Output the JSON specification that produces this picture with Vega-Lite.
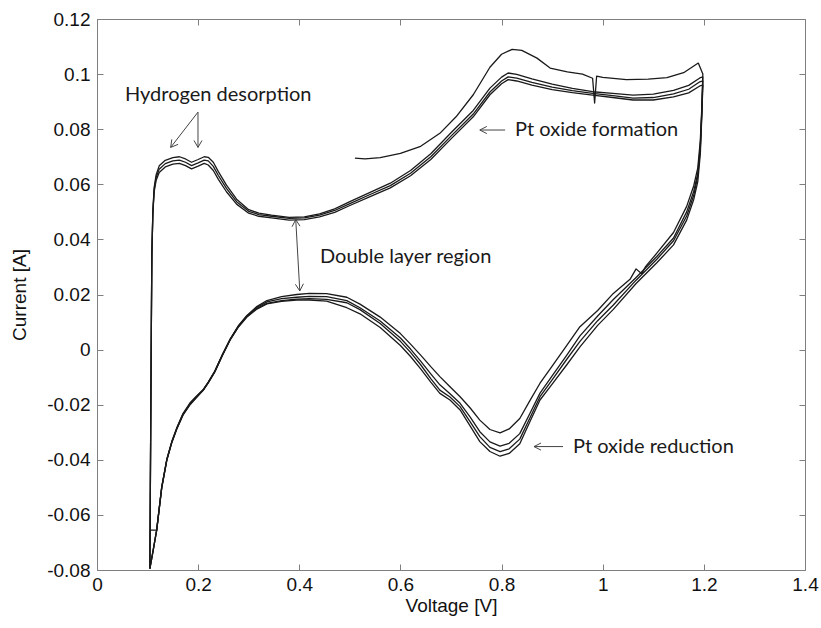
{
"$schema": "https://vega.github.io/schema/vega-lite/v6.json",
"width": 708, "height": 551,
"autosize": {"type": "none"},
"padding": {"left": 97, "top": 19, "right": 16, "bottom": 58},
"background": "white",
"config": {
  "view": {"stroke": "#7f7f7f", "strokeWidth": 1},
  "axis": {"domain": false, "grid": false, "tickColor": "#7f7f7f", "tickSize": -6, "tickWidth": 1,
    "labelFont": "Liberation Sans", "labelFontSize": 19, "labelColor": "#111",
    "titleFont": "Liberation Sans", "titleFontSize": 19, "titleFontWeight": "normal", "titleColor": "#111"}
},
"datasets": {
  "cv": [
{"s":"c1","v":0.510,"a":0.0695},{"s":"c1","v":0.530,"a":0.0692},{"s":"c1","v":0.560,"a":0.0697},{"s":"c1","v":0.600,"a":0.0712},{"s":"c1","v":0.640,"a":0.0738},{"s":"c1","v":0.678,"a":0.0785},{"s":"c1","v":0.710,"a":0.0845},{"s":"c1","v":0.744,"a":0.0925},{"s":"c1","v":0.777,"a":0.1025},{"s":"c1","v":0.800,"a":0.1072},{"s":"c1","v":0.821,"a":0.1090},{"s":"c1","v":0.840,"a":0.1086},{"s":"c1","v":0.870,"a":0.1058},{"s":"c1","v":0.896,"a":0.1022},{"s":"c1","v":0.930,"a":0.1008},{"s":"c1","v":0.960,"a":0.1000},{"s":"c1","v":0.980,"a":0.0985},{"s":"c1","v":0.984,"a":0.0895},{"s":"c1","v":0.988,"a":0.0993},{"s":"c1","v":1.000,"a":0.0988},{"s":"c1","v":1.047,"a":0.0980},{"s":"c1","v":1.090,"a":0.0982},{"s":"c1","v":1.127,"a":0.0987},{"s":"c1","v":1.160,"a":0.1005},{"s":"c1","v":1.189,"a":0.1040},{"s":"c1","v":1.198,"a":0.1000},
{"s":"c1","v":1.196,"a":0.088},{"s":"c1","v":1.193,"a":0.076},{"s":"c1","v":1.188,"a":0.066},{"s":"c1","v":1.180,"a":0.0595},{"s":"c1","v":1.166,"a":0.0520},{"s":"c1","v":1.140,"a":0.0425},{"s":"c1","v":1.107,"a":0.0350},{"s":"c1","v":1.085,"a":0.0302},{"s":"c1","v":1.077,"a":0.0275},{"s":"c1","v":1.066,"a":0.0293},{"s":"c1","v":1.054,"a":0.0255},{"s":"c1","v":1.021,"a":0.0204},{"s":"c1","v":0.990,"a":0.0142},{"s":"c1","v":0.955,"a":0.0083},{"s":"c1","v":0.929,"a":0.0015},{"s":"c1","v":0.900,"a":-0.0060},{"s":"c1","v":0.876,"a":-0.0122},{"s":"c1","v":0.856,"a":-0.0185},{"s":"c1","v":0.836,"a":-0.0250},{"s":"c1","v":0.815,"a":-0.0288},{"s":"c1","v":0.797,"a":-0.0302},{"s":"c1","v":0.777,"a":-0.0290},{"s":"c1","v":0.757,"a":-0.0256},{"s":"c1","v":0.738,"a":-0.0212},{"s":"c1","v":0.718,"a":-0.0171},{"s":"c1","v":0.698,"a":-0.0135},{"s":"c1","v":0.678,"a":-0.0098},{"s":"c1","v":0.660,"a":-0.0062},{"s":"c1","v":0.640,"a":-0.0020},{"s":"c1","v":0.620,"a":0.0020},{"s":"c1","v":0.600,"a":0.0058},{"s":"c1","v":0.560,"a":0.0118},{"s":"c1","v":0.520,"a":0.0165},{"s":"c1","v":0.494,"a":0.0190},{"s":"c1","v":0.454,"a":0.0203},{"s":"c1","v":0.420,"a":0.0204},{"s":"c1","v":0.395,"a":0.0200},{"s":"c1","v":0.365,"a":0.0192},{"s":"c1","v":0.336,"a":0.0178},{"s":"c1","v":0.315,"a":0.0155},{"s":"c1","v":0.296,"a":0.0123},{"s":"c1","v":0.280,"a":0.0088},{"s":"c1","v":0.263,"a":0.0037},{"s":"c1","v":0.248,"a":-0.0018},{"s":"c1","v":0.233,"a":-0.0078},{"s":"c1","v":0.220,"a":-0.0118},{"s":"c1","v":0.210,"a":-0.0145},{"s":"c1","v":0.195,"a":-0.0172},{"s":"c1","v":0.184,"a":-0.0193},{"s":"c1","v":0.170,"a":-0.0232},{"s":"c1","v":0.158,"a":-0.0283},{"s":"c1","v":0.148,"a":-0.0333},{"s":"c1","v":0.138,"a":-0.0398},{"s":"c1","v":0.128,"a":-0.0498},{"s":"c1","v":0.118,"a":-0.0655},{"s":"c1","v":0.110,"a":-0.0740},{"s":"c1","v":0.1045,"a":-0.0795},

{"s":"c2","v":0.1045,"a":-0.0795},{"s":"c2","v":0.1055,"a":-0.050},{"s":"c2","v":0.1065,"a":-0.020},{"s":"c2","v":0.1075,"a":0.010},{"s":"c2","v":0.1085,"a":0.035},{"s":"c2","v":0.1105,"a":0.0505},{"s":"c2","v":0.113,"a":0.0588},{"s":"c2","v":0.117,"a":0.0635},{"s":"c2","v":0.123,"a":0.0667},{"s":"c2","v":0.135,"a":0.0687},{"s":"c2","v":0.150,"a":0.0697},{"s":"c2","v":0.163,"a":0.0700},{"s":"c2","v":0.175,"a":0.0692},{"s":"c2","v":0.187,"a":0.0680},{"s":"c2","v":0.200,"a":0.0690},{"s":"c2","v":0.212,"a":0.0700},{"s":"c2","v":0.220,"a":0.0698},{"s":"c2","v":0.230,"a":0.0680},{"s":"c2","v":0.240,"a":0.0646},{"s":"c2","v":0.256,"a":0.0597},{"s":"c2","v":0.276,"a":0.0546},{"s":"c2","v":0.300,"a":0.0508},{"s":"c2","v":0.320,"a":0.0495},{"s":"c2","v":0.345,"a":0.0488},{"s":"c2","v":0.380,"a":0.0480},{"s":"c2","v":0.410,"a":0.0482},{"s":"c2","v":0.440,"a":0.0493},{"s":"c2","v":0.470,"a":0.0511},{"s":"c2","v":0.500,"a":0.0537},{"s":"c2","v":0.540,"a":0.0571},{"s":"c2","v":0.580,"a":0.0604},{"s":"c2","v":0.620,"a":0.0650},{"s":"c2","v":0.660,"a":0.0711},{"s":"c2","v":0.700,"a":0.0787},{"s":"c2","v":0.744,"a":0.0868},{"s":"c2","v":0.777,"a":0.0949},{"s":"c2","v":0.800,"a":0.0989},{"s":"c2","v":0.813,"a":0.1004},{"s":"c2","v":0.830,"a":0.0999},{"s":"c2","v":0.860,"a":0.0983},{"s":"c2","v":0.900,"a":0.0964},{"s":"c2","v":0.940,"a":0.0948},{"s":"c2","v":0.980,"a":0.0936},{"s":"c2","v":1.020,"a":0.0930},{"s":"c2","v":1.060,"a":0.0924},{"s":"c2","v":1.100,"a":0.0927},{"s":"c2","v":1.140,"a":0.0941},{"s":"c2","v":1.170,"a":0.0959},{"s":"c2","v":1.192,"a":0.0986},{"s":"c2","v":1.198,"a":0.0990},
{"s":"c2","v":1.196,"a":0.087},{"s":"c2","v":1.193,"a":0.074},{"s":"c2","v":1.188,"a":0.064},{"s":"c2","v":1.180,"a":0.0575},{"s":"c2","v":1.166,"a":0.0500},{"s":"c2","v":1.140,"a":0.0405},{"s":"c2","v":1.107,"a":0.0338},{"s":"c2","v":1.066,"a":0.0262},{"s":"c2","v":1.021,"a":0.0182},{"s":"c2","v":0.990,"a":0.0122},{"s":"c2","v":0.955,"a":0.0050},{"s":"c2","v":0.929,"a":-0.0020},{"s":"c2","v":0.900,"a":-0.0095},{"s":"c2","v":0.876,"a":-0.0158},{"s":"c2","v":0.856,"a":-0.0232},{"s":"c2","v":0.836,"a":-0.0305},{"s":"c2","v":0.815,"a":-0.0340},{"s":"c2","v":0.797,"a":-0.0350},{"s":"c2","v":0.777,"a":-0.0335},{"s":"c2","v":0.757,"a":-0.0298},{"s":"c2","v":0.738,"a":-0.0245},{"s":"c2","v":0.718,"a":-0.0195},{"s":"c2","v":0.698,"a":-0.0160},{"s":"c2","v":0.678,"a":-0.0128},{"s":"c2","v":0.660,"a":-0.0088},{"s":"c2","v":0.640,"a":-0.0042},{"s":"c2","v":0.620,"a":0.0002},{"s":"c2","v":0.600,"a":0.0042},{"s":"c2","v":0.560,"a":0.0104},{"s":"c2","v":0.520,"a":0.0152},{"s":"c2","v":0.494,"a":0.0178},{"s":"c2","v":0.454,"a":0.0192},{"s":"c2","v":0.420,"a":0.0193},{"s":"c2","v":0.395,"a":0.0190},{"s":"c2","v":0.365,"a":0.0185},{"s":"c2","v":0.336,"a":0.0173},{"s":"c2","v":0.315,"a":0.0152},{"s":"c2","v":0.296,"a":0.0121},{"s":"c2","v":0.280,"a":0.0086},{"s":"c2","v":0.263,"a":0.0036},{"s":"c2","v":0.248,"a":-0.0019},{"s":"c2","v":0.233,"a":-0.0079},{"s":"c2","v":0.220,"a":-0.0119},{"s":"c2","v":0.210,"a":-0.0146},{"s":"c2","v":0.195,"a":-0.0176},{"s":"c2","v":0.184,"a":-0.0198},{"s":"c2","v":0.170,"a":-0.0236},{"s":"c2","v":0.158,"a":-0.0286},{"s":"c2","v":0.148,"a":-0.0336},{"s":"c2","v":0.138,"a":-0.0401},{"s":"c2","v":0.128,"a":-0.0501},{"s":"c2","v":0.118,"a":-0.0655},{"s":"c2","v":0.110,"a":-0.0740},{"s":"c2","v":0.1045,"a":-0.0795},

{"s":"c3","v":0.1045,"a":-0.0795},{"s":"c3","v":0.1055,"a":-0.050},{"s":"c3","v":0.1065,"a":-0.020},{"s":"c3","v":0.1075,"a":0.010},{"s":"c3","v":0.1085,"a":0.035},{"s":"c3","v":0.1105,"a":0.050},{"s":"c3","v":0.113,"a":0.058},{"s":"c3","v":0.117,"a":0.0625},{"s":"c3","v":0.123,"a":0.0655},{"s":"c3","v":0.135,"a":0.0675},{"s":"c3","v":0.150,"a":0.0685},{"s":"c3","v":0.163,"a":0.0688},{"s":"c3","v":0.175,"a":0.0680},{"s":"c3","v":0.187,"a":0.0668},{"s":"c3","v":0.200,"a":0.0678},{"s":"c3","v":0.212,"a":0.0688},{"s":"c3","v":0.220,"a":0.0685},{"s":"c3","v":0.230,"a":0.0665},{"s":"c3","v":0.240,"a":0.0632},{"s":"c3","v":0.256,"a":0.0585},{"s":"c3","v":0.276,"a":0.0537},{"s":"c3","v":0.300,"a":0.0502},{"s":"c3","v":0.320,"a":0.0490},{"s":"c3","v":0.345,"a":0.0484},{"s":"c3","v":0.380,"a":0.0476},{"s":"c3","v":0.410,"a":0.0478},{"s":"c3","v":0.440,"a":0.0488},{"s":"c3","v":0.470,"a":0.0505},{"s":"c3","v":0.500,"a":0.0530},{"s":"c3","v":0.540,"a":0.0563},{"s":"c3","v":0.580,"a":0.0595},{"s":"c3","v":0.620,"a":0.0640},{"s":"c3","v":0.660,"a":0.0700},{"s":"c3","v":0.700,"a":0.0775},{"s":"c3","v":0.744,"a":0.0855},{"s":"c3","v":0.777,"a":0.0935},{"s":"c3","v":0.800,"a":0.0975},{"s":"c3","v":0.813,"a":0.0990},{"s":"c3","v":0.830,"a":0.0985},{"s":"c3","v":0.860,"a":0.0970},{"s":"c3","v":0.900,"a":0.0953},{"s":"c3","v":0.940,"a":0.0940},{"s":"c3","v":0.980,"a":0.0930},{"s":"c3","v":1.020,"a":0.0922},{"s":"c3","v":1.060,"a":0.0913},{"s":"c3","v":1.100,"a":0.0915},{"s":"c3","v":1.140,"a":0.0928},{"s":"c3","v":1.170,"a":0.0945},{"s":"c3","v":1.192,"a":0.0972},{"s":"c3","v":1.198,"a":0.0975},
{"s":"c3","v":1.196,"a":0.086},{"s":"c3","v":1.193,"a":0.073},{"s":"c3","v":1.188,"a":0.063},{"s":"c3","v":1.180,"a":0.0560},{"s":"c3","v":1.166,"a":0.0485},{"s":"c3","v":1.140,"a":0.0395},{"s":"c3","v":1.107,"a":0.0328},{"s":"c3","v":1.066,"a":0.0252},{"s":"c3","v":1.021,"a":0.0162},{"s":"c3","v":0.990,"a":0.0105},{"s":"c3","v":0.955,"a":0.0030},{"s":"c3","v":0.929,"a":-0.0035},{"s":"c3","v":0.900,"a":-0.0110},{"s":"c3","v":0.876,"a":-0.0171},{"s":"c3","v":0.856,"a":-0.0248},{"s":"c3","v":0.836,"a":-0.0325},{"s":"c3","v":0.815,"a":-0.0360},{"s":"c3","v":0.797,"a":-0.0370},{"s":"c3","v":0.777,"a":-0.0355},{"s":"c3","v":0.757,"a":-0.0316},{"s":"c3","v":0.738,"a":-0.0262},{"s":"c3","v":0.718,"a":-0.0207},{"s":"c3","v":0.698,"a":-0.0172},{"s":"c3","v":0.678,"a":-0.0147},{"s":"c3","v":0.660,"a":-0.0105},{"s":"c3","v":0.640,"a":-0.0055},{"s":"c3","v":0.620,"a":-0.0010},{"s":"c3","v":0.600,"a":0.0030},{"s":"c3","v":0.560,"a":0.0095},{"s":"c3","v":0.520,"a":0.0145},{"s":"c3","v":0.494,"a":0.0170},{"s":"c3","v":0.454,"a":0.0182},{"s":"c3","v":0.420,"a":0.0185},{"s":"c3","v":0.395,"a":0.0183},{"s":"c3","v":0.365,"a":0.0178},{"s":"c3","v":0.336,"a":0.0168},{"s":"c3","v":0.315,"a":0.0148},{"s":"c3","v":0.296,"a":0.0119},{"s":"c3","v":0.280,"a":0.0084},{"s":"c3","v":0.263,"a":0.0035},{"s":"c3","v":0.248,"a":-0.0020},{"s":"c3","v":0.233,"a":-0.0080},{"s":"c3","v":0.220,"a":-0.0120},{"s":"c3","v":0.210,"a":-0.0147},{"s":"c3","v":0.195,"a":-0.0175},{"s":"c3","v":0.184,"a":-0.0197},{"s":"c3","v":0.170,"a":-0.0235},{"s":"c3","v":0.158,"a":-0.0285},{"s":"c3","v":0.148,"a":-0.0335},{"s":"c3","v":0.138,"a":-0.0400},{"s":"c3","v":0.128,"a":-0.0500},{"s":"c3","v":0.118,"a":-0.0655},{"s":"c3","v":0.110,"a":-0.0740},{"s":"c3","v":0.1045,"a":-0.0795},

{"s":"c4","v":0.1045,"a":-0.0795},{"s":"c4","v":0.1055,"a":-0.050},{"s":"c4","v":0.1065,"a":-0.020},{"s":"c4","v":0.1075,"a":0.010},{"s":"c4","v":0.1085,"a":0.035},{"s":"c4","v":0.1105,"a":0.0495},{"s":"c4","v":0.113,"a":0.0572},{"s":"c4","v":0.117,"a":0.0615},{"s":"c4","v":0.123,"a":0.0643},{"s":"c4","v":0.135,"a":0.0663},{"s":"c4","v":0.150,"a":0.0673},{"s":"c4","v":0.163,"a":0.0676},{"s":"c4","v":0.175,"a":0.0668},{"s":"c4","v":0.187,"a":0.0656},{"s":"c4","v":0.200,"a":0.0666},{"s":"c4","v":0.212,"a":0.0676},{"s":"c4","v":0.220,"a":0.0670},{"s":"c4","v":0.230,"a":0.0650},{"s":"c4","v":0.240,"a":0.0618},{"s":"c4","v":0.256,"a":0.0573},{"s":"c4","v":0.276,"a":0.0528},{"s":"c4","v":0.300,"a":0.0495},{"s":"c4","v":0.320,"a":0.0484},{"s":"c4","v":0.345,"a":0.0478},{"s":"c4","v":0.380,"a":0.0470},{"s":"c4","v":0.410,"a":0.0472},{"s":"c4","v":0.440,"a":0.0482},{"s":"c4","v":0.470,"a":0.0498},{"s":"c4","v":0.500,"a":0.0523},{"s":"c4","v":0.540,"a":0.0555},{"s":"c4","v":0.580,"a":0.0587},{"s":"c4","v":0.620,"a":0.0631},{"s":"c4","v":0.660,"a":0.0690},{"s":"c4","v":0.700,"a":0.0765},{"s":"c4","v":0.744,"a":0.0845},{"s":"c4","v":0.777,"a":0.0925},{"s":"c4","v":0.800,"a":0.0965},{"s":"c4","v":0.813,"a":0.0980},{"s":"c4","v":0.830,"a":0.0975},{"s":"c4","v":0.860,"a":0.0960},{"s":"c4","v":0.900,"a":0.0944},{"s":"c4","v":0.940,"a":0.0933},{"s":"c4","v":0.980,"a":0.0924},{"s":"c4","v":1.020,"a":0.0915},{"s":"c4","v":1.060,"a":0.0906},{"s":"c4","v":1.100,"a":0.0906},{"s":"c4","v":1.140,"a":0.0917},{"s":"c4","v":1.170,"a":0.0932},{"s":"c4","v":1.192,"a":0.0957},{"s":"c4","v":1.198,"a":0.0960},
{"s":"c4","v":1.196,"a":0.085},{"s":"c4","v":1.193,"a":0.071},{"s":"c4","v":1.188,"a":0.061},{"s":"c4","v":1.180,"a":0.0545},{"s":"c4","v":1.166,"a":0.0470},{"s":"c4","v":1.140,"a":0.0380},{"s":"c4","v":1.107,"a":0.0315},{"s":"c4","v":1.066,"a":0.0240},{"s":"c4","v":1.021,"a":0.0146},{"s":"c4","v":0.990,"a":0.0088},{"s":"c4","v":0.955,"a":0.0010},{"s":"c4","v":0.929,"a":-0.0055},{"s":"c4","v":0.900,"a":-0.0125},{"s":"c4","v":0.876,"a":-0.0183},{"s":"c4","v":0.856,"a":-0.0262},{"s":"c4","v":0.836,"a":-0.0342},{"s":"c4","v":0.815,"a":-0.0377},{"s":"c4","v":0.797,"a":-0.0387},{"s":"c4","v":0.777,"a":-0.0370},{"s":"c4","v":0.757,"a":-0.0334},{"s":"c4","v":0.738,"a":-0.0278},{"s":"c4","v":0.718,"a":-0.0219},{"s":"c4","v":0.698,"a":-0.0183},{"s":"c4","v":0.678,"a":-0.0159},{"s":"c4","v":0.660,"a":-0.0118},{"s":"c4","v":0.640,"a":-0.0070},{"s":"c4","v":0.620,"a":-0.0025},{"s":"c4","v":0.600,"a":0.0015},{"s":"c4","v":0.560,"a":0.0080},{"s":"c4","v":0.520,"a":0.0130},{"s":"c4","v":0.494,"a":0.0152},{"s":"c4","v":0.454,"a":0.0176},{"s":"c4","v":0.420,"a":0.0180},{"s":"c4","v":0.395,"a":0.0180},{"s":"c4","v":0.365,"a":0.0175},{"s":"c4","v":0.336,"a":0.0166},{"s":"c4","v":0.315,"a":0.0146},{"s":"c4","v":0.296,"a":0.0117},{"s":"c4","v":0.280,"a":0.0083},{"s":"c4","v":0.263,"a":0.0034},{"s":"c4","v":0.248,"a":-0.0021},{"s":"c4","v":0.233,"a":-0.0081},{"s":"c4","v":0.220,"a":-0.0121},{"s":"c4","v":0.210,"a":-0.0148},{"s":"c4","v":0.195,"a":-0.0178},{"s":"c4","v":0.184,"a":-0.0200},{"s":"c4","v":0.170,"a":-0.0238},{"s":"c4","v":0.158,"a":-0.0287},{"s":"c4","v":0.148,"a":-0.0337},{"s":"c4","v":0.138,"a":-0.0402},{"s":"c4","v":0.128,"a":-0.0502},{"s":"c4","v":0.118,"a":-0.0655},{"s":"c4","v":0.1045,"a":-0.0655}
  ],
  "arrows": [
    {"x":0.1997,"y":0.0862,"x2":0.1457,"y2":0.0734},
    {"x":0.1457,"y":0.0734,"x2":0.1604,"y2":0.0745},
    {"x":0.1457,"y":0.0734,"x2":0.1479,"y2":0.0763},
    {"x":0.1997,"y":0.0862,"x2":0.1997,"y2":0.0734},
    {"x":0.1997,"y":0.0734,"x2":0.1918,"y2":0.0759},
    {"x":0.1997,"y":0.0734,"x2":0.2076,"y2":0.0759},
    {"x":0.393,"y":0.0472,"x2":0.401,"y2":0.0213},
    {"x":0.393,"y":0.0472,"x2":0.3857,"y2":0.0446},
    {"x":0.393,"y":0.0472,"x2":0.4014,"y2":0.0448},
    {"x":0.401,"y":0.0213,"x2":0.4082,"y2":0.0239},
    {"x":0.401,"y":0.0213,"x2":0.3923,"y2":0.0237},
    {"x":0.807,"y":0.0797,"x2":0.757,"y2":0.0797},
    {"x":0.757,"y":0.0797,"x2":0.7708,"y2":0.0810},
    {"x":0.757,"y":0.0797,"x2":0.7708,"y2":0.0784},
    {"x":0.9215,"y":-0.0352,"x2":0.8641,"y2":-0.0352},
    {"x":0.8641,"y":-0.0352,"x2":0.878,"y2":-0.0339},
    {"x":0.8641,"y":-0.0352,"x2":0.878,"y2":-0.0365}
  ],
  "notes": [
    {"x":0.0554,"y":0.0924,"t":"Hydrogen desorption"},
    {"x":0.441,"y":0.0336,"t":"Double layer region"},
    {"x":0.8266,"y":0.0797,"t":"Pt oxide formation"},
    {"x":0.941,"y":-0.0352,"t":"Pt oxide reduction"}
  ]
},
"layer": [
  {
    "data": {"name": "cv"},
    "mark": {"type": "line", "stroke": "#1a1a1a", "strokeWidth": 1.3, "strokeJoin": "round", "clip": true},
    "encoding": {
      "x": {"field": "v", "type": "quantitative", "scale": {"domain": [0, 1.4], "nice": false, "zero": false},
        "axis": {"orient": "bottom", "title": "Voltage [V]", "values": [0,0.2,0.4,0.6,0.8,1,1.2,1.4], "labelPadding": 11, "titlePadding": 2,
          "labelExpr": "format(datum.value, '.1~f')", "labelFlush": false}},
      "y": {"field": "a", "type": "quantitative", "scale": {"domain": [-0.08, 0.12], "nice": false, "zero": false},
        "axis": {"orient": "left", "title": "Current [A]", "values": [-0.08,-0.06,-0.04,-0.02,0,0.02,0.04,0.06,0.08,0.1,0.12], "labelPadding": 13, "titlePadding": 17,
          "labelExpr": "replace(format(datum.value, '.2~f'), '−', '-')", "labelFlush": false}},
      "detail": {"field": "s", "type": "nominal"},
      "order": {"value": null}
    }
  },
  {
    "data": {"name": "arrows"},
    "mark": {"type": "rule", "stroke": "#444", "strokeWidth": 1},
    "encoding": {
      "x": {"field": "x", "type": "quantitative",
        "axis": {"orient": "top", "title": null, "labels": false, "values": [0,0.2,0.4,0.6,0.8,1,1.2,1.4]}},
      "y": {"field": "y", "type": "quantitative",
        "axis": {"orient": "right", "title": null, "labels": false, "values": [-0.08,-0.06,-0.04,-0.02,0,0.02,0.04,0.06,0.08,0.1,0.12]}},
      "x2": {"field": "x2"},
      "y2": {"field": "y2"}
    }
  },
  {
    "data": {"name": "notes"},
    "mark": {"type": "text", "align": "left", "baseline": "middle", "font": "Lato", "fontSize": 20, "fill": "#1a1a1a"},
    "encoding": {
      "x": {"field": "x", "type": "quantitative", "axis": null},
      "y": {"field": "y", "type": "quantitative", "axis": null},
      "text": {"field": "t", "type": "nominal"}
    }
  }
],
"resolve": {"axis": {"x": "independent", "y": "independent"}}
}
